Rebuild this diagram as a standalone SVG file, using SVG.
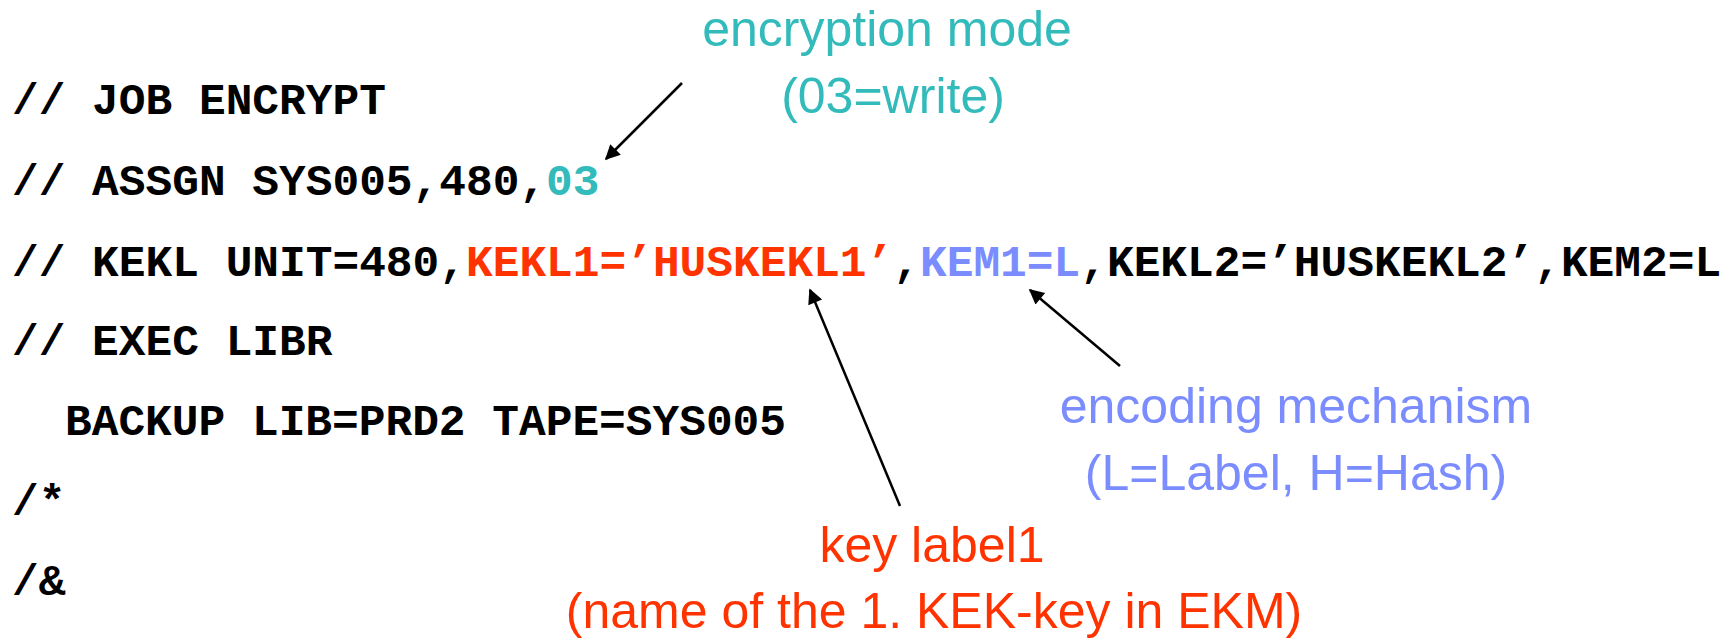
<svg xmlns="http://www.w3.org/2000/svg" width="1725" height="640" viewBox="0 0 1725 640">
<defs>
<style>
.code{font-family:"Liberation Mono","Courier New",monospace;font-weight:bold;font-size:44.5px;fill:#000}
.lbl{font-family:"Liberation Sans",Arial,sans-serif;font-size:50px;text-anchor:middle}
.teal{fill:#33BBBB}
.red{fill:#FF3300}
.blue{fill:#7B8CFF}
.conn{stroke:#000;stroke-width:2.5;fill:none;marker-end:url(#ah)}
</style>
<marker id="ah" viewBox="0 0 10 10" refX="9" refY="5" markerWidth="7" markerHeight="6" orient="auto" markerUnits="strokeWidth">
<path d="M0,0 L10,5 L0,10 z" fill="#000"/>
</marker>
</defs>
<rect width="1725" height="640" fill="#fff"/>
<g id="code">
<text class="code" x="12" y="114">// JOB ENCRYPT</text>
<text class="code" x="12" y="195">// ASSGN SYS005,480,<tspan class="teal">03</tspan></text>
<text class="code" x="12" y="276">// KEKL UNIT=480,<tspan class="red">KEKL1=’HUSKEKL1’</tspan>,<tspan class="blue">KEM1=L</tspan>,KEKL2=’HUSKEKL2’,KEM2=L</text>
<text class="code" x="12" y="355">// EXEC LIBR</text>
<text class="code" x="65" y="435">BACKUP LIB=PRD2 TAPE=SYS005</text>
<text class="code" x="12" y="515">/*</text>
<text class="code" x="12" y="595">/&amp;</text>
</g>
<g id="label-mode">
<text class="lbl teal" x="887" y="46">encryption mode</text>
<text class="lbl teal" x="893" y="113">(03=write)</text>
</g>
<g id="label-kem">
<text class="lbl blue" x="1296" y="423">encoding mechanism</text>
<text class="lbl blue" x="1296" y="490">(L=Label, H=Hash)</text>
</g>
<g id="label-key">
<text class="lbl red" x="932" y="562">key label1</text>
<text class="lbl red" x="934" y="628">(name of the 1. KEK-key in EKM)</text>
</g>
<g id="connectors">
<line class="conn" x1="682" y1="83" x2="606" y2="159"/>
<line class="conn" x1="900" y1="506" x2="810" y2="290"/>
<line class="conn" x1="1120" y1="366" x2="1030" y2="290"/>
</g>
</svg>
